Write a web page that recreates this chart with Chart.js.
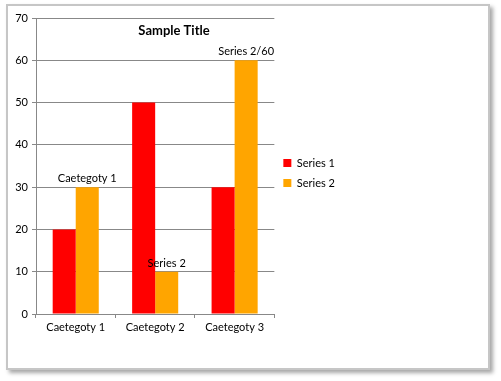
<!DOCTYPE html>
<html>
<head>
<meta charset="utf-8">
<script src="https://cdn.jsdelivr.net/npm/chart.js@4/dist/chart.umd.min.js"></script>
<style>
  html, body { margin: 0; padding: 0; background: #fff; }
  #frame {
    position: absolute; left: 6px; top: 4px; width: 480px; height: 362px;
    border: 2px solid #c6c6c6; box-shadow: 3px 3px 4px rgba(0,0,0,0.35); background: #fff;
  }
  #wrap { position: absolute; left: 0; top: 0; width: 501px; height: 381px; }
</style>
</head>
<body>
<div id="frame"></div>
<div id="wrap"><canvas id="chart" width="501" height="381"></canvas></div>
<script>
const categories = ['Caetegoty 1', 'Caetegoty 2', 'Caetegoty 3'];
const series1 = [20, 50, 30];
const series2 = [30, 10, 60];
const series2Labels = ['Caetegoty 1', 'Series 2', 'Series 2/60'];
const yMin = 0;
const yMax = 70;
const yStep = 10;
const chartTitle = 'Sample Title';

const FONT = 'Lato, "Liberation Sans", sans-serif';

/* draws the overlaid title and the labels over the Series 2 bars */
const overlayText = {
  id: 'overlayText',
  afterLayout(chart) {
    // keep the legend centred a bit higher, like the original
    chart.legend.bottom = 328;
    chart.legend.height = chart.legend.bottom - chart.legend.top;
  },
  afterDatasetsDraw(chart) {
    const ctx = chart.ctx;
    ctx.save();
    ctx.fillStyle = '#000';
    ctx.textAlign = 'center';
    ctx.textBaseline = 'bottom';
    ctx.font = '11px ' + FONT;
    chart.getDatasetMeta(1).data.forEach((bar, i) => {
      ctx.fillText(series2Labels[i], bar.x, bar.y - 3);
    });
    ctx.font = 'bold 13px ' + FONT;
    ctx.textBaseline = 'middle';
    ctx.fillText(chartTitle, 174, 31);
    ctx.restore();
  }
};

new Chart(document.getElementById('chart'), {
  type: 'bar',
  data: {
    labels: categories,
    datasets: [
      { label: 'Series 1', data: series1, backgroundColor: '#ff0000' },
      { label: 'Series 2', data: series2, backgroundColor: '#ffa500' }
    ]
  },
  options: {
    responsive: false,
    animation: false,
    devicePixelRatio: 1,
    datasets: { bar: { categoryPercentage: 0.58, barPercentage: 1 } },
    layout: { padding: { left: 8, top: 18, right: 156, bottom: 12 } },
    plugins: {
      title: { display: false },
      tooltip: { enabled: false },
      legend: {
        position: 'right',
        labels: {
          boxWidth: 8, boxHeight: 8, padding: 9,
          color: '#000', font: { family: FONT, size: 11 }
        }
      }
    },
    scales: {
      x: {
        afterFit(s) { s.height = 55; },
        grid: { offset: true, drawOnChartArea: false, tickLength: 4, color: '#888' },
        border: { color: '#888' },
        ticks: { color: '#000', font: { family: FONT, size: 11 }, padding: 3 }
      },
      y: {
        min: yMin, max: yMax,
        afterFit(s) { s.width = 28; },
        grid: { color: '#888', tickLength: 4 },
        border: { color: '#888' },
        ticks: { stepSize: yStep, color: '#000', font: { family: FONT, size: 11 }, padding: 4 }
      }
    }
  },
  plugins: [overlayText]
});
</script>
</body>
</html>
